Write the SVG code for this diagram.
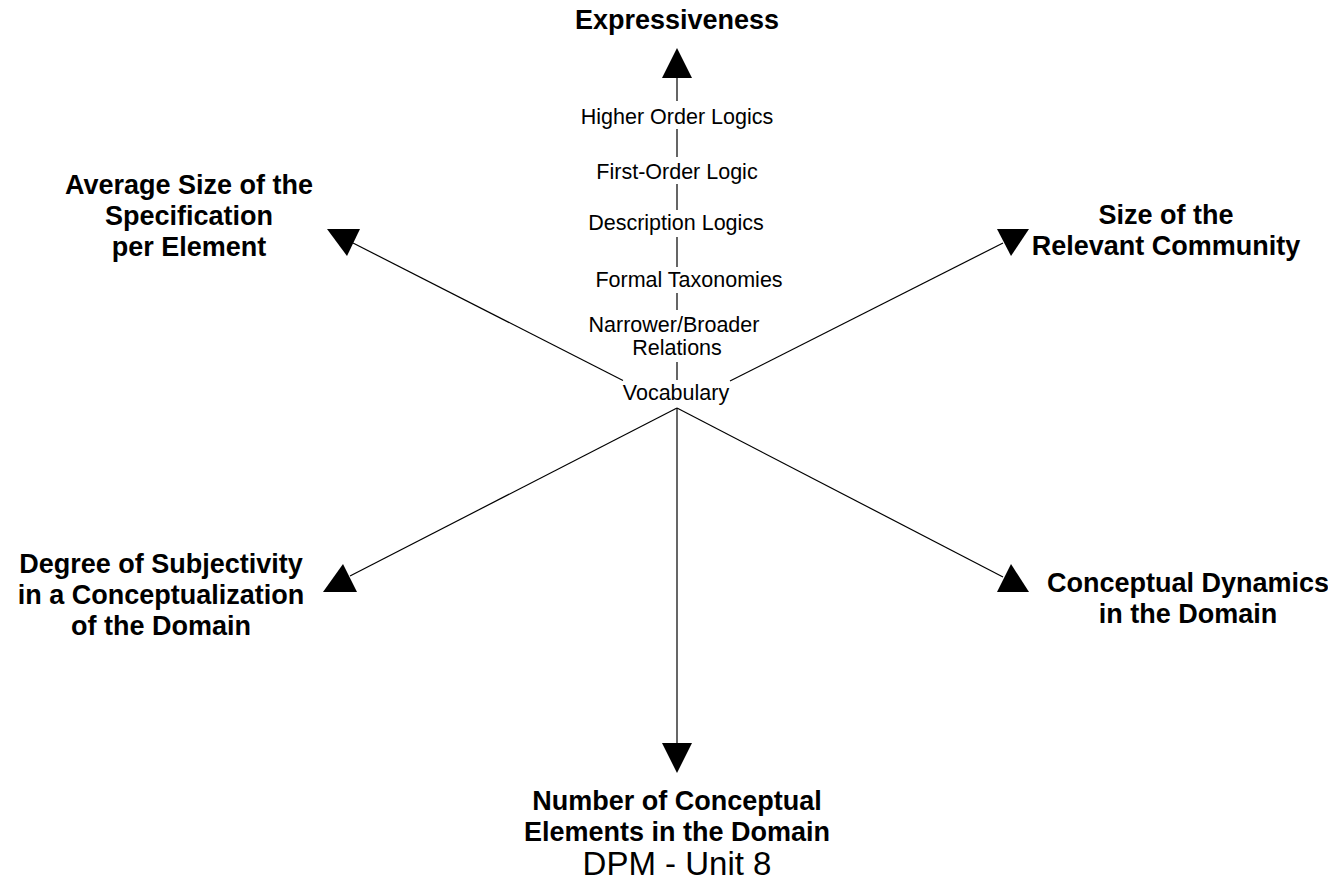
<svg xmlns="http://www.w3.org/2000/svg" width="1328" height="888" viewBox="0 0 1328 888">
<style>
.b{font-family:"Liberation Sans",Arial,sans-serif;font-weight:bold;font-size:27px;fill:#000;text-anchor:middle}
.n{font-family:"Liberation Sans",Arial,sans-serif;font-size:21.5px;fill:#000;text-anchor:middle}
.t{font-family:"Liberation Sans",Arial,sans-serif;font-size:33px;fill:#000;text-anchor:middle}
.ln{stroke:#000;stroke-width:1.2;fill:none}
.ah{fill:#000}
</style>
<rect width="1328" height="888" fill="#fff"/>
<g id="connectors">
<path class="ln" d="M677 78V101M677 129V157M677 184V210M677 237V267M677 293V310M677 362V380"/>
<path class="ln" d="M623 380.5L353 243"/>
<path class="ln" d="M730 381L1003 243"/>
<path class="ln" d="M677 408L350 576"/>
<path class="ln" d="M677 408L1003 577"/>
<path class="ln" d="M677 408V743"/>
<polygon class="ah" points="677,48 692,78 662,78"/>
<polygon class="ah" points="327,229 360,229 347,256"/>
<polygon class="ah" points="997,229 1029,229 1011,256"/>
<polygon class="ah" points="343,564 357,592 323,592"/>
<polygon class="ah" points="1011,564 1029,592 997,592"/>
<polygon class="ah" points="662,743 692,743 677,773"/>
</g>
<g id="expressiveness"><text class="b" x="677" y="29">Expressiveness</text></g>
<g id="avg-size"><text class="b" x="189" y="194">Average Size of the</text><text class="b" x="189" y="225">Specification</text><text class="b" x="189" y="256">per Element</text></g>
<g id="community"><text class="b" x="1166" y="224">Size of the</text><text class="b" x="1166" y="255">Relevant Community</text></g>
<g id="subjectivity"><text class="b" x="161" y="573">Degree of Subjectivity</text><text class="b" x="161" y="604">in a Conceptualization</text><text class="b" x="161" y="635">of the Domain</text></g>
<g id="dynamics"><text class="b" x="1188" y="592">Conceptual Dynamics</text><text class="b" x="1188" y="623">in the Domain</text></g>
<g id="number"><text class="b" x="677" y="810">Number of Conceptual</text><text class="b" x="677" y="841">Elements in the Domain</text></g>
<g id="footer"><text class="t" x="677" y="875">DPM - Unit 8</text></g>
<g id="levels">
<text class="n" x="677" y="124">Higher Order Logics</text>
<text class="n" x="677" y="179">First-Order Logic</text>
<text class="n" x="676" y="230">Description Logics</text>
<text class="n" x="689" y="287">Formal Taxonomies</text>
<text class="n" x="674" y="332">Narrower/Broader</text>
<text class="n" x="677" y="355">Relations</text>
<text class="n" x="676" y="400">Vocabulary</text>
</g>
</svg>
